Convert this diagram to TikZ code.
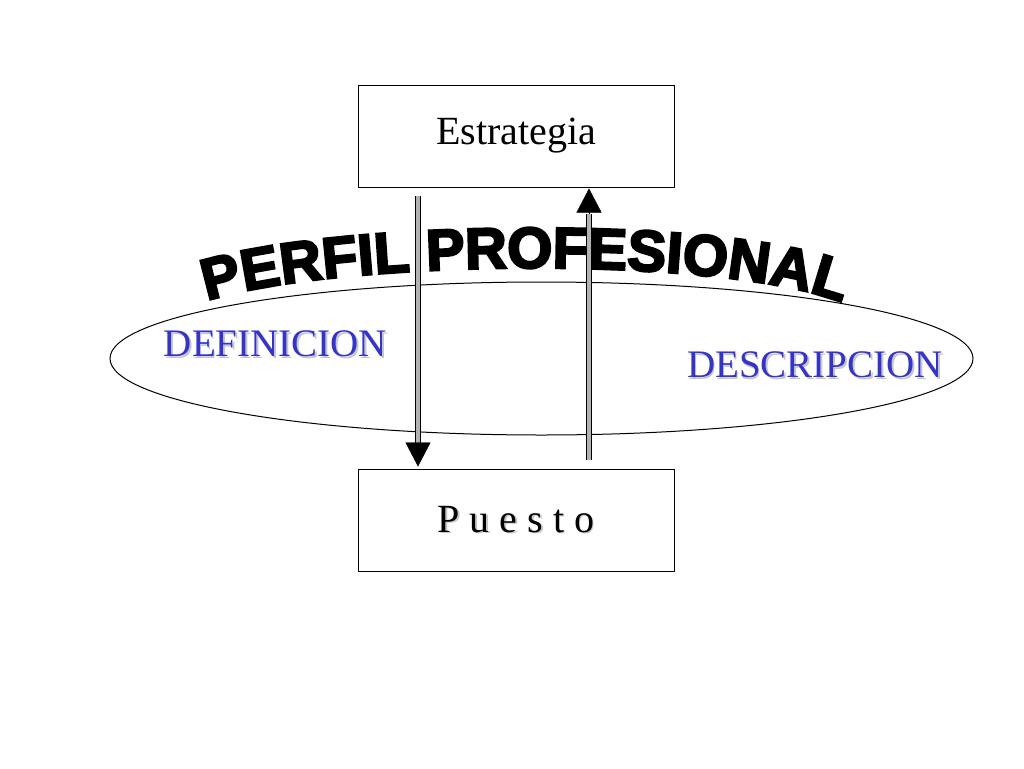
\documentclass[tikz,border=0pt]{standalone}
\usepackage{fontspec}
\setmainfont{Liberation Serif}
\newfontfamily\perfilfont{Liberation Sans Bold}[FakeBold=4]
\usetikzlibrary{arrows.meta,shapes.geometric,decorations.text}
\definecolor{textblue}{RGB}{52,52,200}
\newcommand{\shtext}[1]{\makebox[0pt][l]{\textcolor{black!22}{\raisebox{-1.5pt}{\hspace{1.5pt}#1}}}#1}
\begin{document}
\begin{tikzpicture}[
        x=1pt, y=-1pt,
        box/.style={draw, line width=1pt, minimum width=316pt, minimum height=102pt, inner sep=0pt, font=\fontsize{40}{48}\selectfont},
        pipe/.style={draw=black, line width=1.2pt, double=black!30, double distance=4pt},
        head/.style={line width=0.4pt, -{Triangle[width=25pt,length=24pt]}},
        label/.style={inner sep=0pt, text=textblue, font=\fontsize{39}{46}\selectfont},
        ]
        \useasboundingbox (0,0) rectangle (1024,768);

        % Boxes
        \node[box] (est) at (516,136) {Estrategia};
        \node[box] (pto) at (516,520) {\shtext{P u e s t o}};

        % Ellipse
        \node[draw, ellipse, line width=1pt, minimum width=863pt, minimum height=153pt, inner sep=0pt] (perfil) at (541.5,358.5) {};

        % Labels
        \node[label] (def) at (275.5,345) {\shtext{DEFINICION}};
        \node[label] (desc) at (815,366) {\shtext{DESCRIPCION}};

        % Arched title
        \path[decorate, decoration={text along path, text align=center,
            text={|\perfilfont\fontsize{58}{62}\selectfont|PERFIL PROFESIONAL}}]
            (201,303) .. controls (320,260) and (725,252) .. (848,305);

        % Estrategia down to Puesto
        \draw[pipe] ([xshift=-98pt,yshift=-8pt]est.south) -- ([xshift=-98pt,yshift=26pt]pto.north) coordinate (dbase);
        \draw[head] (dbase) -- ([xshift=-98pt,yshift=2pt]pto.north);

        % Puesto up to Estrategia
        \draw[pipe] ([xshift=73pt,yshift=9pt]pto.north) -- ([xshift=73pt,yshift=-26pt]est.south) coordinate (ubase);
        \draw[head] (ubase) -- ([xshift=73pt,yshift=-1pt]est.south);

    \end{tikzpicture}
\end{document}
